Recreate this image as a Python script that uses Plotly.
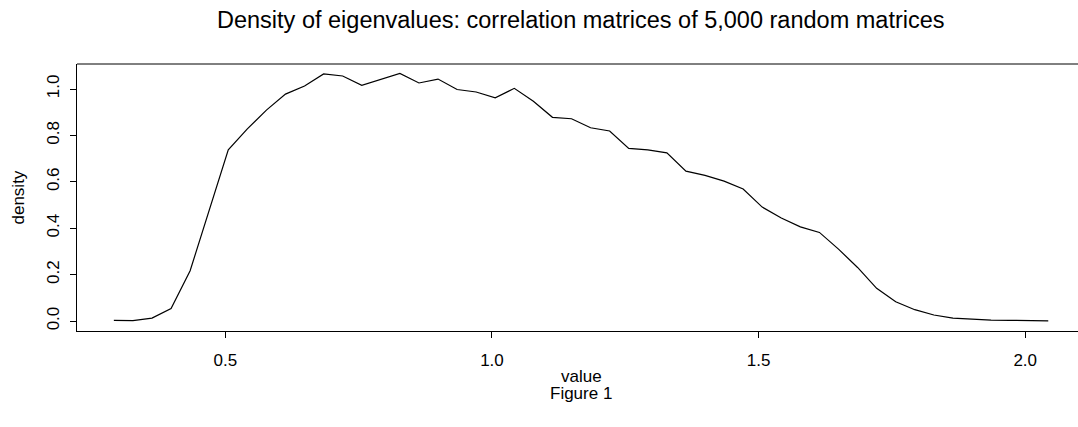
import plotly.graph_objects as go

x_start = 0.291
x_step = 0.03576
density = [0.003, 0.002, 0.013, 0.054, 0.217, 0.475, 0.738, 0.828, 0.909, 0.978,
           1.013, 1.065, 1.056, 1.016, 1.042, 1.067, 1.026, 1.043, 0.998, 0.987,
           0.962, 1.003, 0.947, 0.878, 0.872, 0.833, 0.819, 0.744, 0.738, 0.725,
           0.646, 0.628, 0.603, 0.569, 0.491, 0.444, 0.406, 0.382, 0.310, 0.231,
           0.141, 0.083, 0.049, 0.026, 0.013, 0.007, 0.004, 0.003, 0.002, 0.001]
values = [x_start + i * x_step for i in range(len(density))]

x_ticks = [0.5, 1.0, 1.5, 2.0]
x_tick_text = ["0.5", "1.0", "1.5", "2.0"]
y_ticks = [0.0, 0.2, 0.4, 0.6, 0.8, 1.0]
y_tick_text = ["0.0", "0.2", "0.4", "0.6", "0.8", "1.0"]

title = "Density of eigenvalues: correlation matrices of 5,000 random matrices"
font = "Liberation Sans, Arial, sans-serif"

fig = go.Figure()
fig.add_trace(go.Scatter(x=values, y=density, mode="lines",
                         line=dict(color="black", width=1.2), showlegend=False,
                         hoverinfo="skip"))

W, H = 1078, 427
ml, mr, mt, mb = 77, 0, 64, 96

fig.update_layout(
    width=W, height=H,
    margin=dict(l=ml, r=mr, t=mt, b=mb, autoexpand=False),
    paper_bgcolor="white", plot_bgcolor="white",
    font=dict(family=font, color="black", size=17),
    xaxis=dict(range=[0.2219, 2.099], tickvals=x_ticks, ticktext=x_tick_text,
               ticks="outside", ticklen=6, tickwidth=1, tickcolor="black",
               showgrid=False, zeroline=False, showline=True, linecolor="black",
               linewidth=1, mirror=False, tickfont=dict(size=17),
               ticklabelstandoff=8),
    yaxis=dict(range=[-0.0428, 1.1078], tickvals=y_ticks, ticktext=y_tick_text,
               ticks="outside", ticklen=6, tickwidth=1, tickcolor="black",
               showgrid=False, zeroline=False, showline=True, linecolor="black",
               linewidth=1, tickangle=-90, tickfont=dict(size=17),
               ticklabelstandoff=4),
    shapes=[dict(type="line", xref="paper", yref="paper", x0=0, x1=1.01, y0=1, y1=1,
                 line=dict(color="black", width=1))],
)

pw = W - ml - mr
ph = H - mt - mb
def px(xp):
    return (xp - ml) / pw
def py(yp):
    return (H - mb - yp) / ph

fig.update_layout(annotations=[
    dict(text=title, x=px(581), y=py(20), xref="paper", yref="paper",
         xanchor="center", yanchor="middle", showarrow=False, font=dict(size=23.5)),
    dict(text="value", x=px(581), y=py(376), xref="paper", yref="paper",
         xanchor="center", yanchor="middle", showarrow=False, font=dict(size=17)),
    dict(text="Figure 1", x=px(581), y=py(393), xref="paper", yref="paper",
         xanchor="center", yanchor="middle", showarrow=False, font=dict(size=17)),
    dict(text="density", x=px(18), y=py(197.5), xref="paper", yref="paper",
         xanchor="center", yanchor="middle", showarrow=False, font=dict(size=17),
         textangle=-90),
])

fig.write_html("out.html", config={"displayModeBar": False},
               post_script="document.body.style.margin='0';document.body.style.overflow='hidden';")
